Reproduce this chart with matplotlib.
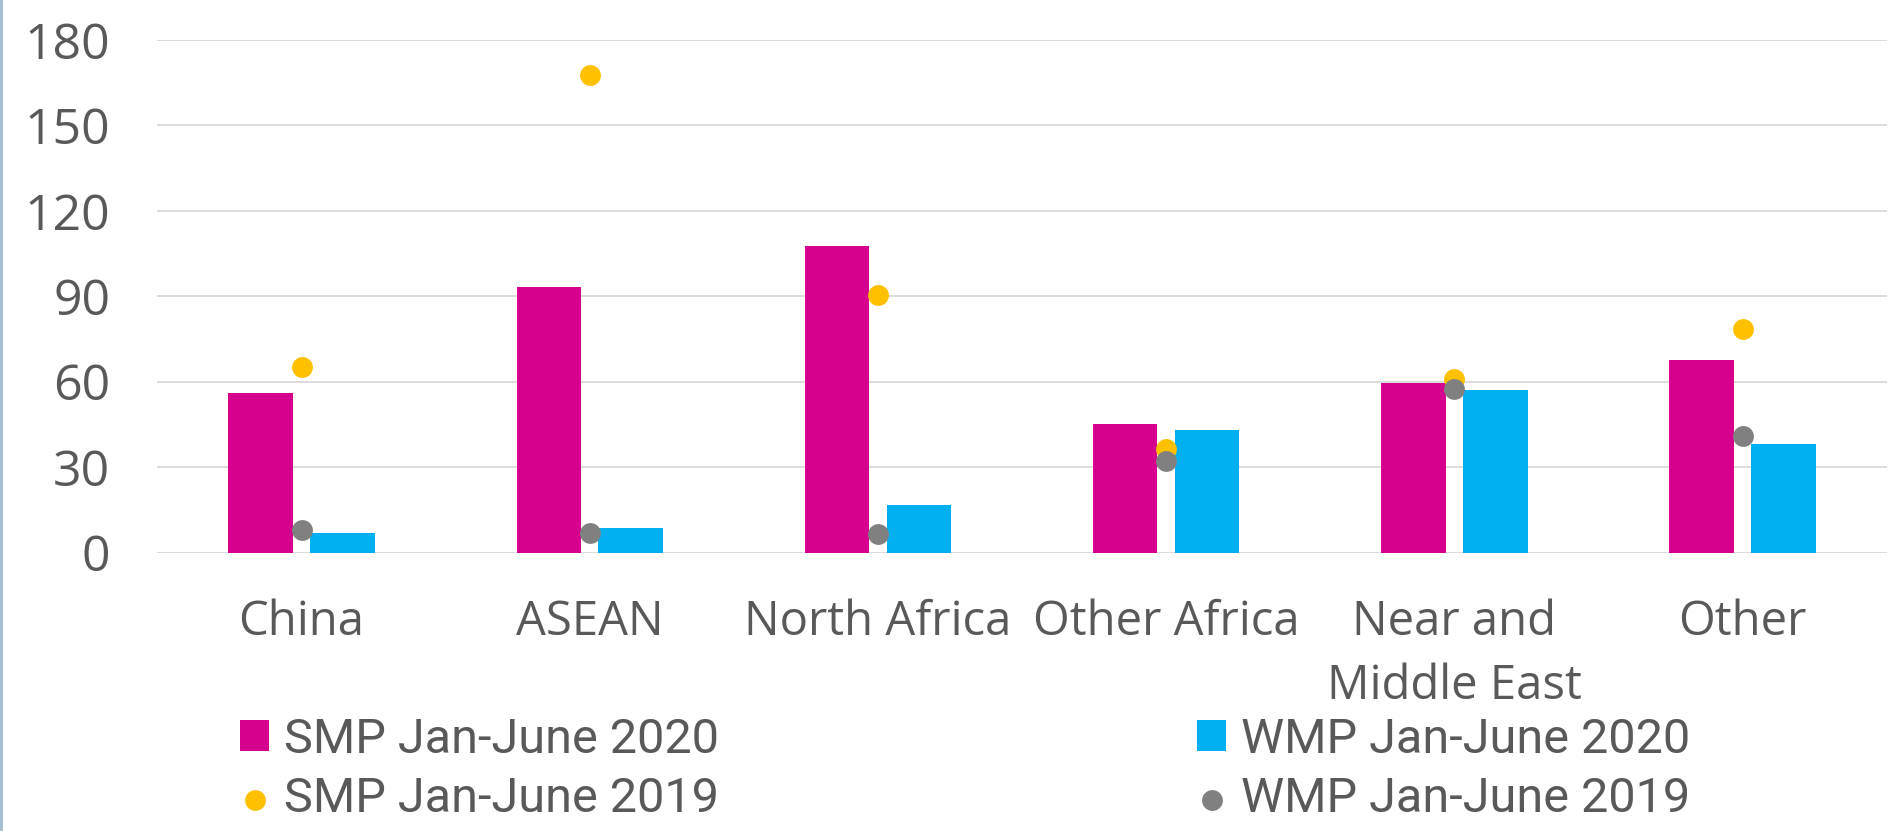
import numpy as np
import matplotlib
matplotlib.use("Agg")
import matplotlib.pyplot as plt
from matplotlib.lines import Line2D

# data
categories = ["China", "ASEAN", "North Africa", "Other Africa", "Near and\nMiddle East", "Other"]
smp_2020 = [56.0, 93.1, 107.5, 45.3, 59.7, 67.6]
wmp_2020 = [6.8, 8.6, 16.6, 42.9, 57.2, 38.1]
smp_2019 = [65.2, 167.6, 90.6, 36.4, 60.8, 78.4]
wmp_2019 = [8.0, 6.9, 6.6, 32.1, 57.5, 40.8]
yticks = [0, 30, 60, 90, 120, 150, 180]

MAGENTA = "#D6008F"
BLUE = "#00B0F0"
YELLOW = "#FFC000"
GREY = "#808080"
TEXT = "#595959"

plt.rcParams["font.family"] = ["Open Sans", "DejaVu Sans"]

W, H = 1892, 831
fig = plt.figure(figsize=(W / 100, H / 100), dpi=100)
ax = fig.add_axes([157.4 / W, (H - 552.5) / H, (1886.7 - 157.4) / W, (552.5 - 40) / H])

x = np.arange(len(categories))
bw = 0.2235
off = 0.142
b1 = ax.bar(x - off, smp_2020, bw, color=MAGENTA, zorder=2, label="SMP Jan-June 2020")
b2 = ax.bar(x + off, wmp_2020, bw, color=BLUE, zorder=2, label="WMP Jan-June 2020")
s1 = ax.scatter(x, smp_2019, s=15 ** 2, color=YELLOW, zorder=3, linewidths=0,
                label="SMP Jan-June 2019")
s2 = ax.scatter(x, wmp_2019, s=15 ** 2, color=GREY, zorder=4, linewidths=0,
                label="WMP Jan-June 2019")

ax.set_xlim(-0.5, len(categories) - 0.5)
ax.set_ylim(0, 180)
ax.set_yticks(yticks)
ax.set_xticks(x)
ax.set_xticklabels(categories, linespacing=1.45)
ax.yaxis.grid(True, color="#d9d9d9", lw=1.3, zorder=0)
ax.set_axisbelow(True)
for sp in ax.spines.values():
    sp.set_visible(False)
ax.tick_params(axis="y", length=0, pad=34, labelsize=36, labelcolor=TEXT)
ax.tick_params(axis="x", length=0, pad=33, labelsize=34, labelcolor=TEXT)

# legend text uses Roboto, whose J stays on the baseline like the original font
leg_kw = dict(frameon=False, prop={"family": ["Roboto", "DejaVu Sans"], "size": 35},
              labelcolor=TEXT, handlelength=0.6,
              handleheight=0.6, handletextpad=0.3, labelspacing=0.26,
              borderpad=0, borderaxespad=0, loc="upper left", scatterpoints=1)
leg1 = fig.legend([b1, s1], ["SMP Jan-June 2020", "SMP Jan-June 2019"],
                  bbox_to_anchor=(240 / W, 1 - 717 / H), **leg_kw)
leg2 = fig.legend([b2, s2], ["WMP Jan-June 2020", "WMP Jan-June 2019"],
                  bbox_to_anchor=(1197 / W, 1 - 717 / H), **leg_kw)

# thin blue rule at the left edge
fig.add_artist(Line2D([1.35 / W, 1.35 / W], [0, 1], color="#9dbad2", lw=1.95))

fig.savefig("out.png", dpi=100, facecolor="white")
